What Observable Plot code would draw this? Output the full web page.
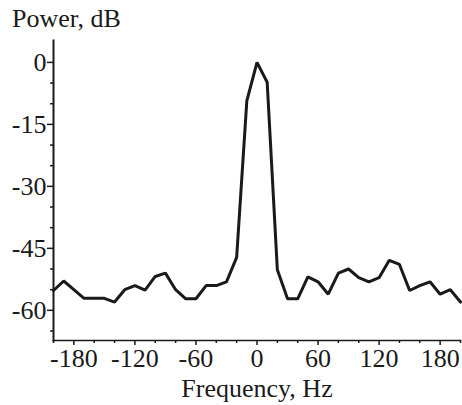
<!DOCTYPE html>
<html><head><meta charset="utf-8">
<script src="https://cdn.jsdelivr.net/npm/d3@7"></script>
<script src="https://cdn.jsdelivr.net/npm/@observablehq/plot@0.6"></script>
<style>body{margin:0;background:#fff}</style>
</head><body><div id="chart"></div>
<script>
const freq = [-200,-190,-180,-170,-160,-150,-140,-130,-120,-110,-100,-90,-80,-70,-60,-50,-40,-30,-20,-10,0,10,20,30,40,50,60,70,80,90,100,110,120,130,140,150,160,170,180,190,200];
const power = [-55.2,-52.9,-55,-57.1,-57.1,-57.1,-58,-55,-54,-55.1,-51.8,-51,-55,-57.2,-57.2,-54,-54,-53.1,-47.2,-9.3,0,-4.8,-50.2,-57.2,-57.2,-51.9,-53.1,-56.1,-51,-50,-52.1,-53.1,-52.1,-47.9,-48.9,-55.2,-54,-53.1,-56.1,-55,-58];
const xTicks = [-180,-120,-60,0,60,120,180];
const xMinor = [-200,-160,-140,-100,-80,-40,-20,20,40,80,100,140,160,200];
const yTicks = [0,-15,-30,-45,-60];
const yMinor = [-5,-10,-20,-25,-35,-40,-50,-55,-65];
const xLabel = "Frequency, Hz";
const yLabel = "Power, dB";

const data = freq.map((f, i) => ({f, p: power[i]}));
const ink = "#1a1a1a";
const fmt = d => String(d);
const fs = 26;

const chart = Plot.plot({
  width: 462, height: 405,
  marginLeft: 53, marginRight: 2, marginTop: 40, marginBottom: 65,
  style: {fontFamily: "'Liberation Serif', 'Times New Roman', serif", fontSize: fs + "px", color: ink, background: "#fff"},
  x: {domain: [-200, 200]},
  y: {domain: [-67.3, 5.3]},
  marks: [
    Plot.axisX(xTicks, {tickSize: 5, tickPadding: 3.5, strokeWidth: 1.5, tickFormat: fmt, fontSize: fs, label: null}),
    Plot.axisX(xMinor, {tickSize: 3, fill: "none", strokeWidth: 1.5, label: null}),
    Plot.axisY(yTicks, {tickSize: 6, tickPadding: 1, strokeWidth: 1.5, tickFormat: fmt, fontSize: fs, label: null}),
    Plot.axisY(yMinor, {tickSize: 3, fill: "none", strokeWidth: 1.5, label: null}),
    Plot.frame({anchor: "left", stroke: ink, strokeWidth: 2}),
    Plot.frame({anchor: "bottom", stroke: ink, strokeWidth: 1.5}),
    Plot.line(data, {x: "f", y: "p", stroke: ink, strokeWidth: 3, strokeLinejoin: "miter"}),
    Plot.text([xLabel], {frameAnchor: "bottom", text: d => d, lineAnchor: "middle", dy: 48.3, fill: ink, fontSize: fs}),
    Plot.text([yLabel], {frameAnchor: "top-left", text: d => d, lineAnchor: "middle", textAnchor: "start", dx: -41.5, dy: -21.6, fill: ink, fontSize: fs})
  ]
});
document.getElementById("chart").append(chart);
</script>
</body></html>
